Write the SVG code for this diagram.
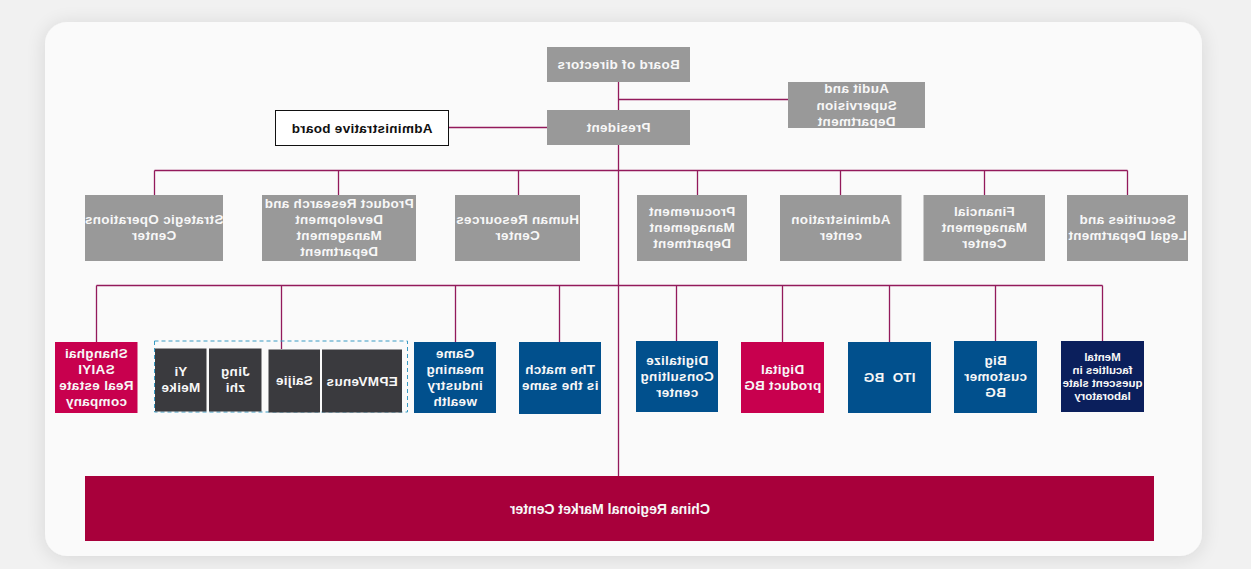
<svg xmlns="http://www.w3.org/2000/svg" width="1251" height="569" viewBox="0 0 1251 569">
<defs>
<filter id="sh" x="-5%" y="-10%" width="110%" height="120%">
<feGaussianBlur in="SourceAlpha" stdDeviation="10"/>
<feOffset dx="0" dy="2"/>
<feComponentTransfer><feFuncA type="linear" slope="0.12"/></feComponentTransfer>
<feMerge><feMergeNode/><feMergeNode in="SourceGraphic"/></feMerge>
</filter>
</defs>
<style>
.t{font-family:"Liberation Sans",Arial,sans-serif;font-weight:bold;font-size:13.5px;fill:#f7f7f7;text-anchor:middle;letter-spacing:0.3px}
.s{font-size:11.5px;letter-spacing:0}
.k{fill:#111}
.g{fill:#999999}
.b{fill:#01508d}
.m{fill:#c8004e}
.n{fill:#0b1f5c}
.d{fill:#3a3a3e}
.ln{stroke:#931a5b;stroke-width:1.3;fill:none}
</style>
<rect x="0" y="0" width="1251" height="569" fill="#f1f1f1"/>
<rect x="45" y="22" width="1157" height="534" rx="22" fill="#fafafa" filter="url(#sh)"/>

<g id="connectors">
<path class="ln" d="M618.5 82V110M618.5 145V476M618.5 99.5H788M448.5 127.5H547"/>
<path class="ln" d="M154.5 170.5H1127.5M154.5 170.5V195M338.5 170.5V195M518.5 170.5V195M697.5 170.5V195M840.5 170.5V195M984.5 170.5V195M1127.5 170.5V195"/>
<path class="ln" d="M96.5 285.5H1102.5M96.5 285.5V342M281.5 285.5V349M455.5 285.5V342M559.5 285.5V342M676.5 285.5V341M782.5 285.5V342M889.5 285.5V342M995.5 285.5V341M1102.5 285.5V341"/>
</g>

<g id="board"><rect class="g" x="547" y="47" width="143" height="35"/>
<text class="t" transform="translate(618.5 0) scale(-1 1)"><tspan x="0" y="69">Board of directors</tspan></text></g>

<g id="president"><rect class="g" x="547" y="110" width="143" height="35"/>
<text class="t" transform="translate(618.5 0) scale(-1 1)"><tspan x="0" y="132">President</tspan></text></g>

<g id="audit"><rect class="g" x="788" y="82" width="137" height="46"/>
<text class="t" transform="translate(856.5 0) scale(-1 1)"><tspan x="0" y="93">Audit and</tspan><tspan x="0" y="109.5">Supervision</tspan><tspan x="0" y="126">Department</tspan></text></g>

<g id="adminboard"><rect x="275.5" y="110.5" width="173" height="35" fill="#ffffff" stroke="#111" stroke-width="1"/>
<text class="t k" transform="translate(362 0) scale(-1 1)"><tspan x="0" y="132.5">Administrative board</tspan></text></g>

<g id="strategic"><rect class="g" x="85" y="195" width="138" height="66"/>
<text class="t" transform="translate(154 0) scale(-1 1)"><tspan x="0" y="224">Strategic Operations</tspan><tspan x="0" y="240">Center</tspan></text></g>

<g id="prd"><rect class="g" x="262" y="195" width="154" height="66"/>
<text class="t" transform="translate(339 0) scale(-1 1)"><tspan x="0" y="208">Product Research and</tspan><tspan x="0" y="224">Development</tspan><tspan x="0" y="240">Management</tspan><tspan x="0" y="256">Department</tspan></text></g>

<g id="hr"><rect class="g" x="455" y="195" width="125" height="66"/>
<text class="t" transform="translate(517.5 0) scale(-1 1)"><tspan x="0" y="224">Human Resources</tspan><tspan x="0" y="240">Center</tspan></text></g>

<g id="procurement"><rect class="g" x="637" y="195" width="110" height="66"/>
<text class="t" transform="translate(692 0) scale(-1 1)"><tspan x="0" y="216">Procurement</tspan><tspan x="0" y="232">Management</tspan><tspan x="0" y="248">Department</tspan></text></g>

<g id="administration"><rect class="g" x="780" y="195" width="121.5" height="66"/>
<text class="t" transform="translate(840.75 0) scale(-1 1)"><tspan x="0" y="224">Administration</tspan><tspan x="0" y="240">center</tspan></text></g>

<g id="financial"><rect class="g" x="923.5" y="195" width="121.5" height="66"/>
<text class="t" transform="translate(984.25 0) scale(-1 1)"><tspan x="0" y="216">Financial</tspan><tspan x="0" y="232">Management</tspan><tspan x="0" y="248">Center</tspan></text></g>

<g id="securities"><rect class="g" x="1067" y="195" width="121" height="66"/>
<text class="t" transform="translate(1127.5 0) scale(-1 1)"><tspan x="0" y="224">Securities and</tspan><tspan x="0" y="240">Legal Department</tspan></text></g>

<g id="shanghai"><rect class="m" x="55" y="342" width="82.5" height="71"/>
<text class="t" transform="translate(96.25 0) scale(-1 1)"><tspan x="0" y="358">Shanghai</tspan><tspan x="0" y="374">SAIYI</tspan><tspan x="0" y="390">Real estate</tspan><tspan x="0" y="406">company</tspan></text></g>

<g id="group"><rect x="154.5" y="341" width="253" height="71" fill="none" stroke="#3a9cc4" stroke-width="1" stroke-dasharray="4 3"/></g>

<g id="yimeike"><rect class="d" x="155" y="348.5" width="51.5" height="63"/>
<text class="t" transform="translate(180.75 0) scale(-1 1)"><tspan x="0" y="376">Yi</tspan><tspan x="0" y="392">Meike</tspan></text></g>

<g id="jingzhi"><rect class="d" x="209" y="348.5" width="52.5" height="63"/>
<text class="t" transform="translate(235.25 0) scale(-1 1)"><tspan x="0" y="376">Jing</tspan><tspan x="0" y="392">zhi</tspan></text></g>

<g id="saijie"><rect class="d" x="268.5" y="349.5" width="51.5" height="63"/>
<text class="t" transform="translate(294.25 0) scale(-1 1)"><tspan x="0" y="385">Saijie</tspan></text></g>

<g id="epmvenus"><rect class="d" x="322" y="349.5" width="80" height="63"/>
<text class="t" transform="translate(362 0) scale(-1 1)"><tspan x="0" y="386">EPMVenus</tspan></text></g>

<g id="game"><rect class="b" x="414" y="342" width="82" height="71"/>
<text class="t" transform="translate(455 0) scale(-1 1)"><tspan x="0" y="358">Game</tspan><tspan x="0" y="374">meaning</tspan><tspan x="0" y="390">industry</tspan><tspan x="0" y="406">wealth</tspan></text></g>

<g id="match"><rect class="b" x="519" y="342" width="82" height="72"/>
<text class="t" transform="translate(560 0) scale(-1 1)"><tspan x="0" y="374">The match</tspan><tspan x="0" y="390">is the same</tspan></text></g>

<g id="digitalize"><rect class="b" x="636" y="341" width="82" height="71"/>
<text class="t" transform="translate(677 0) scale(-1 1)"><tspan x="0" y="365">Digitalize</tspan><tspan x="0" y="381">Consulting</tspan><tspan x="0" y="397">center</tspan></text></g>

<g id="digitalproduct"><rect class="m" x="741" y="342" width="83" height="71"/>
<text class="t" transform="translate(782.5 0) scale(-1 1)"><tspan x="0" y="374">Digital</tspan><tspan x="0" y="390">product BG</tspan></text></g>

<g id="ito"><rect class="b" x="848" y="342" width="83" height="71"/>
<text class="t" transform="translate(889.5 0) scale(-1 1)" xml:space="preserve"><tspan x="0" y="382">ITO  BG</tspan></text></g>

<g id="bigcustomer"><rect class="b" x="954" y="341" width="83" height="72"/>
<text class="t" transform="translate(995.5 0) scale(-1 1)"><tspan x="0" y="365">Big</tspan><tspan x="0" y="381">customer</tspan><tspan x="0" y="397">BG</tspan></text></g>

<g id="mental"><rect class="n" x="1061" y="341" width="83" height="71"/>
<text class="t s" transform="translate(1102.5 0) scale(-1 1)"><tspan x="0" y="361">Mental</tspan><tspan x="0" y="374">faculties in</tspan><tspan x="0" y="387">quescent slate</tspan><tspan x="0" y="400">laboratory</tspan></text></g>

<g id="china"><rect x="85" y="476" width="1069" height="65" fill="#a8003b"/>
<text class="t" style="font-size:14.5px;letter-spacing:0" transform="translate(610 0) scale(-1 1)" textLength="200" lengthAdjust="spacingAndGlyphs"><tspan x="0" y="513.5">China Regional Market Center</tspan></text></g>
</svg>
